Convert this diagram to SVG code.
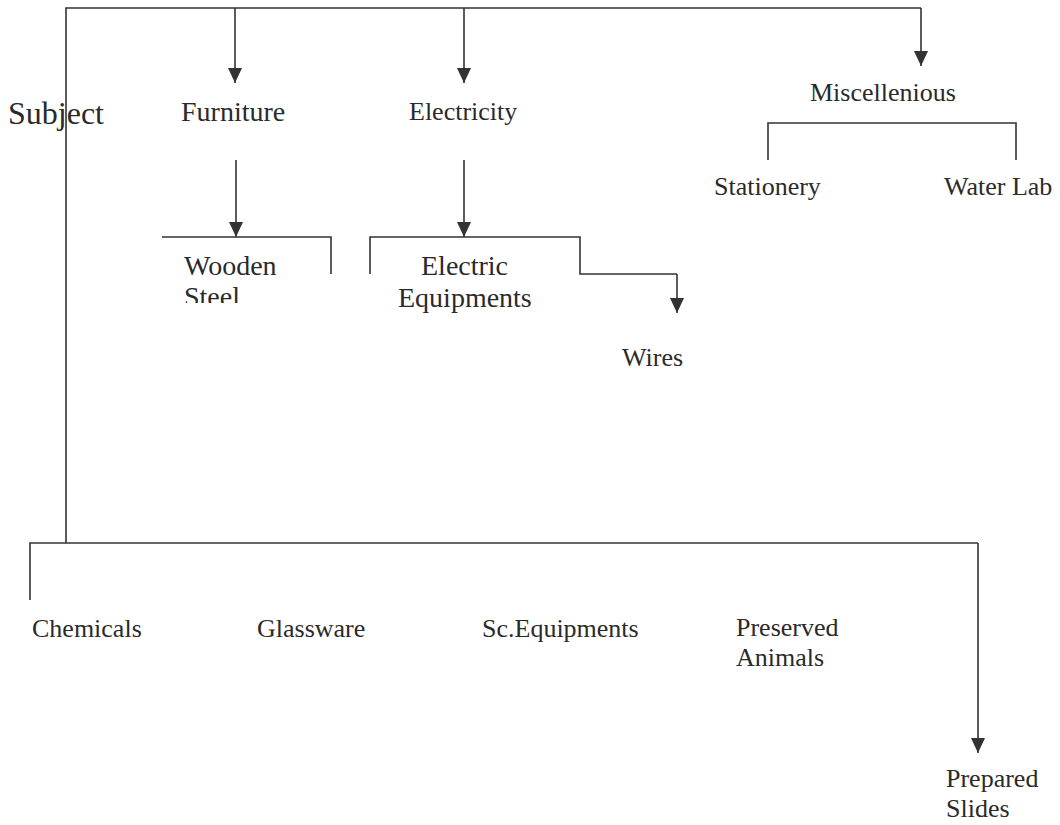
<svg xmlns="http://www.w3.org/2000/svg" width="1060" height="825" viewBox="0 0 1060 825">
<style>
.ln{fill:none;stroke:#333;stroke-width:1.6}
.t{font-family:"Liberation Serif","Times New Roman",serif;fill:#2a2a2a;font-size:26px}
.a{marker-end:url(#ah)}
</style>
<defs>
<marker id="ah" markerUnits="userSpaceOnUse" markerWidth="15" markerHeight="15" viewBox="0 0 15 15" refX="15" refY="7.5" orient="auto">
<path d="M0,0.5 L15,7.5 L0,14.5 z" fill="#333"/>
</marker>
<clipPath id="steelclip"><rect x="150" y="280" width="200" height="23"/></clipPath>
</defs>
<rect width="1060" height="825" fill="#fff"/>
<g id="connectors">
<path class="ln" d="M66,543 V8 H921"/>
<path class="ln a" d="M921,8 V66"/>
<path class="ln a" d="M235,8 V83"/>
<path class="ln a" d="M464,8 V83"/>
<path class="ln a" d="M236,160 V237"/>
<path class="ln" d="M162,237 H331 V274"/>
<path class="ln a" d="M464,160 V237"/>
<path class="ln" d="M370,274 V237 H580 V274 H677"/>
<path class="ln a" d="M677,274 V313"/>
<path class="ln" d="M768,160 V123 H1016 V160"/>
<path class="ln" d="M30,600 V543 H978"/>
<path class="ln a" d="M978,543 V753"/>
</g>
<g id="subject"><text class="t" x="8" y="124" style="font-size:32px">Subject</text></g>
<g id="furniture"><text class="t" x="181" y="121" style="font-size:28px">Furniture</text></g>
<g id="electricity"><text class="t" x="409" y="120">Electricity</text></g>
<g id="miscellenious"><text class="t" x="810" y="101">Miscellenious</text></g>
<g id="stationery"><text class="t" x="714" y="195">Stationery</text></g>
<g id="waterlab"><text class="t" x="944" y="195">Water Lab</text></g>
<g id="wooden-steel">
<text class="t" x="184" y="275" style="font-size:28px">Wooden</text>
<text class="t" x="184" y="306" style="font-size:28px" clip-path="url(#steelclip)">Steel</text>
</g>
<g id="electric-equipments">
<text class="t" x="421" y="275" style="font-size:28px">Electric</text>
<text class="t" x="398" y="307" style="font-size:28px">Equipments</text>
</g>
<g id="wires"><text class="t" x="622" y="366">Wires</text></g>
<g id="chemicals"><text class="t" x="32" y="637">Chemicals</text></g>
<g id="glassware"><text class="t" x="257" y="637">Glassware</text></g>
<g id="sc-equipments"><text class="t" x="482" y="637">Sc.Equipments</text></g>
<g id="preserved-animals">
<text class="t" x="736" y="636">Preserved</text>
<text class="t" x="736" y="666">Animals</text>
</g>
<g id="prepared-slides">
<text class="t" x="946" y="787">Prepared</text>
<text class="t" x="946" y="817">Slides</text>
</g>
</svg>
